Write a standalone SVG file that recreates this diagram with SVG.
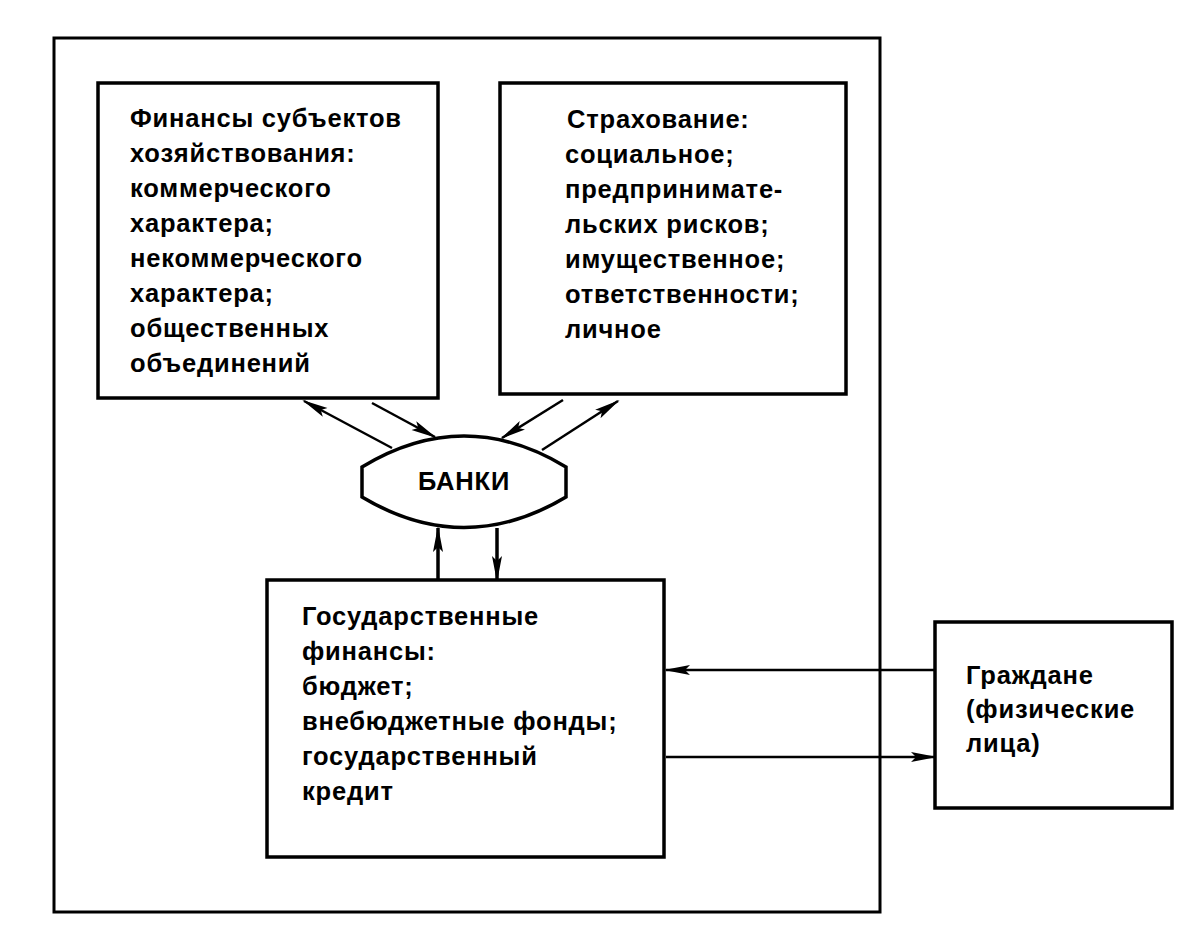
<svg xmlns="http://www.w3.org/2000/svg" width="1202" height="936" viewBox="0 0 1202 936">
<defs>
<style>
.box{fill:#fff;stroke:#000;stroke-width:3.5}
.frame{fill:none;stroke:#000;stroke-width:3}
.t{font-family:"Liberation Sans",Arial,sans-serif;font-weight:bold;font-size:25.5px;letter-spacing:0.8px;fill:#000}
.c{stroke:#000;stroke-width:2.5;fill:none;marker-end:url(#ah)}
.v{stroke-width:3.5}
</style>
<marker id="ah" markerUnits="userSpaceOnUse" markerWidth="26" markerHeight="14" viewBox="0 0 26 14" refX="24" refY="7" orient="auto">
<path d="M0,2 L26,7 L0,12 L5,7 Z" fill="#000"/>
</marker>
</defs>
<rect width="1202" height="936" fill="#fff"/>
<g id="frame"><rect class="frame" x="54" y="38" width="826" height="874"/></g>
<g id="connectors">
<line class="c" x1="392" y1="448" x2="304" y2="401"/>
<line class="c" x1="372" y1="403" x2="435" y2="437"/>
<line class="c" x1="563" y1="400" x2="502" y2="438"/>
<line class="c" x1="542" y1="450" x2="618" y2="401"/>
<line class="c v" x1="438" y1="580" x2="438" y2="528"/>
<line class="c v" x1="497" y1="528" x2="497" y2="580"/>
<line class="c" x1="935" y1="670" x2="666" y2="670"/>
<line class="c" x1="666" y1="757" x2="935" y2="757"/>
</g>
<g id="node-finance">
<rect class="box" x="98" y="83" width="340" height="315"/>
<text class="t"><tspan x="130" y="127">Финансы субъектов</tspan><tspan x="130" y="162">хозяйствования:</tspan><tspan x="130" y="197">коммерческого</tspan><tspan x="130" y="232">характера;</tspan><tspan x="130" y="267">некоммерческого</tspan><tspan x="130" y="302">характера;</tspan><tspan x="130" y="337">общественных</tspan><tspan x="130" y="372">объединений</tspan></text>
</g>
<g id="node-insurance">
<rect class="box" x="500" y="83" width="346" height="311"/>
<text class="t"><tspan x="567" y="128">Страхование:</tspan><tspan x="565" y="163">социальное;</tspan><tspan x="565" y="198">предпринимате-</tspan><tspan x="565" y="233">льских рисков;</tspan><tspan x="565" y="268">имущественное;</tspan><tspan x="565" y="303">ответственности;</tspan><tspan x="565" y="338">личное</tspan></text>
</g>
<g id="node-banks">
<path class="box" d="M362,467 Q464,405 566,467 L566,497 Q464,558 362,497 Z"/>
<text class="t" x="464" y="490" text-anchor="middle">БАНКИ</text>
</g>
<g id="node-state">
<rect class="box" x="267" y="580" width="397" height="277"/>
<text class="t"><tspan x="302" y="625">Государственные</tspan><tspan x="302" y="660">финансы:</tspan><tspan x="302" y="695">бюджет;</tspan><tspan x="302" y="730">внебюджетные фонды;</tspan><tspan x="302" y="765">государственный</tspan><tspan x="302" y="800">кредит</tspan></text>
</g>
<g id="node-citizens">
<rect class="box" x="935" y="622" width="237" height="186"/>
<text class="t"><tspan x="966" y="684">Граждане</tspan><tspan x="966" y="718">(физические</tspan><tspan x="966" y="752">лица)</tspan></text>
</g>
</svg>
